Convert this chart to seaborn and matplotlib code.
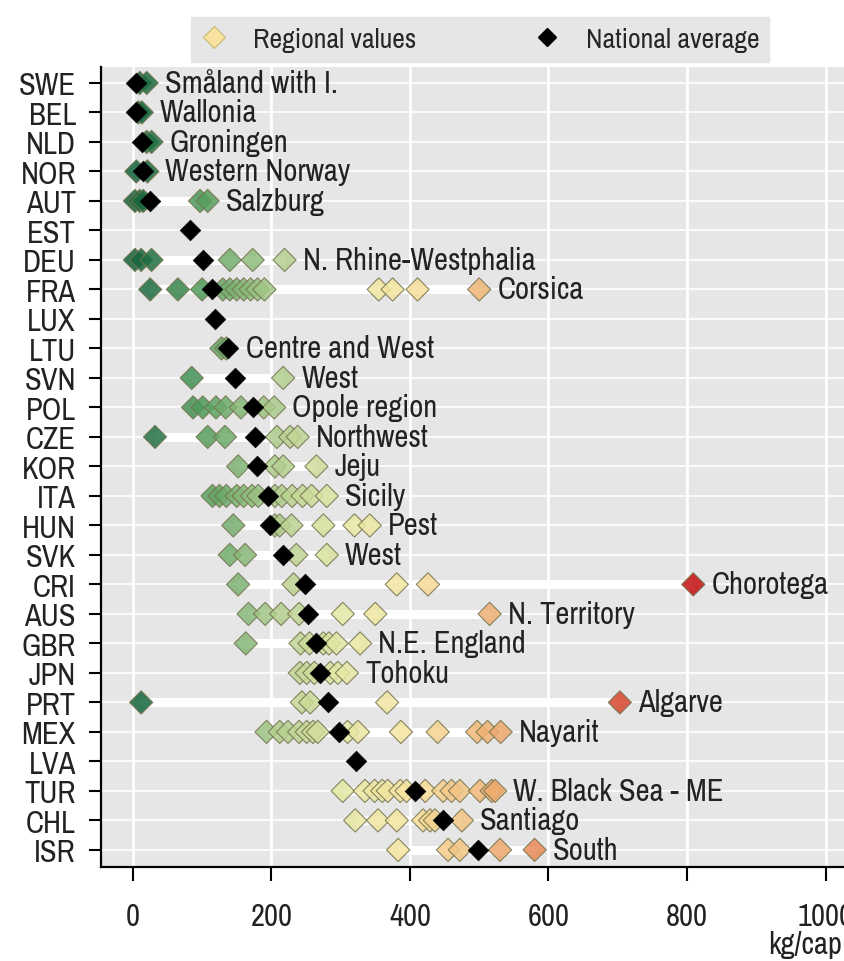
import numpy as np
import pandas as pd
import matplotlib
matplotlib.use("Agg")
import matplotlib.pyplot as plt
from matplotlib.colors import LinearSegmentedColormap
from matplotlib.lines import Line2D
import seaborn as sns

# data (kg/cap)
countries = ["SWE", "BEL", "NLD", "NOR", "AUT", "EST", "DEU", "FRA", "LUX", "LTU",
             "SVN", "POL", "CZE", "KOR", "ITA", "HUN", "SVK", "CRI", "AUS", "GBR",
             "JPN", "PRT", "MEX", "LVA", "TUR", "CHL", "ISR"]
national = [5, 5, 13, 15, 25, 82, 101, 114, 118, 137,
            148, 173, 176, 179, 195, 198, 217, 248, 253, 264,
            270, 282, 298, 322, 407, 448, 498]
regional = [
    [10, 20],
    [8, 13],
    [20, 27],
    [5, 21],
    [3, 10, 15, 97, 108],
    [],
    [3, 12, 27, 140, 173, 219],
    [25, 65, 100, 130, 140, 150, 160, 170, 180, 190, 355, 375, 411, 500],
    [],
    [128, 135],
    [85, 217],
    [87, 101, 120, 134, 156, 189, 204],
    [32, 108, 133, 208, 227, 238],
    [152, 205, 217, 265],
    [115, 125, 135, 150, 160, 172, 181, 205, 215, 230, 245, 258, 280],
    [145, 205, 212, 229, 275, 320, 342],
    [140, 162, 236, 280],
    [152, 232, 381, 426, 809],
    [167, 191, 214, 240, 303, 350, 515],
    [163, 242, 255, 275, 283, 294, 328],
    [241, 251, 262, 285, 296, 309],
    [12, 244, 256, 367, 703],
    [193, 212, 224, 240, 251, 260, 267, 310, 325, 387, 440, 497, 512, 531],
    [],
    [303, 335, 349, 360, 368, 386, 395, 422, 448, 460, 472, 501, 518, 523],
    [321, 354, 381, 419, 429, 436, 475],
    [383, 455, 472, 530, 580],
]
top_region = ["Småland with I.", "Wallonia", "Groningen", "Western Norway", "Salzburg", "",
              "N. Rhine-Westphalia", "Corsica", "", "Centre and West", "West",
              "Opole region", "Northwest", "Jeju", "Sicily", "Pest", "West",
              "Chorotega", "N. Territory", "N.E. England", "Tohoku", "Algarve",
              "Nayarit", "", "W. Black Sea - ME", "Santiago", "South"]
xticks = [0, 200, 400, 600, 800, 1000]

rows = []
for i, vals in enumerate(regional):
    for v in vals:
        rows.append({"row": i, "value": v})
reg_df = pd.DataFrame(rows)
nat_df = pd.DataFrame({"row": range(len(countries)), "value": national})

sns.set_style("darkgrid", {"axes.facecolor": "#e6e6e6", "grid.color": "white"})
plt.rcParams['font.family'] = ['Archivo Narrow', 'PT Sans Narrow', 'DejaVu Sans']
FS = 22

cmap = LinearSegmentedColormap.from_list("waste", [
    (0.0, "#10603a"), (0.123, "#4e9a5a"), (0.247, "#a9c98a"), (0.37, "#e4e8a4"),
    (0.494, "#f8e4a0"), (0.617, "#f0b878"), (0.74, "#e88050"), (0.864, "#d84a30"),
    (1.0, "#c40f0f")])

fig = plt.figure(figsize=(8.45, 9.62), dpi=100)
ax = fig.add_axes([0.1195, 0.0977, 0.8805, 0.8316])

# white range bars behind the markers
for i, vals in enumerate(regional):
    allv = vals + [national[i]]
    if len(vals) > 0:
        ax.hlines(i, min(allv), max(allv), color="white", lw=6.5, zorder=1)

sns.scatterplot(data=reg_df, x="value", y="row", hue="value", palette=cmap,
                hue_norm=(0, 810), marker="D", s=140, alpha=0.85,
                edgecolor=(0.45, 0.45, 0.3, 0.45), linewidth=0.8, legend=False,
                ax=ax, zorder=2)
sns.scatterplot(data=nat_df, x="value", y="row", color="black", marker="D", s=110,
                edgecolor="black", linewidth=0.5, legend=False, ax=ax, zorder=3)

for i, name in enumerate(top_region):
    if name:
        xmax = max(regional[i] + [national[i]])
        ax.annotate(name, (xmax, i), xytext=(13, 0), textcoords="offset points",
                    va="center", ha="left", fontsize=FS, color="#222222", zorder=4)

ax.set_xlim(-46, 1028)
ax.set_ylim(26.58, -0.54)
ax.set_yticks(range(len(countries)))
ax.set_yticklabels(countries)
ax.set_xticks(xticks)
ax.set_xlabel("")
ax.set_ylabel("")
ax.grid(True, axis="x", color="white", lw=2)
ax.grid(True, axis="y", color="white", lw=1.2)
ax.set_axisbelow(True)
for side in ["top", "right"]:
    ax.spines[side].set_visible(False)
for side in ["left", "bottom"]:
    ax.spines[side].set_visible(True)
    ax.spines[side].set_color("black")
    ax.spines[side].set_linewidth(1.6)
ax.tick_params(axis="y", length=9, width=1.5, color="black", pad=9, labelsize=FS,
               labelcolor="#222222", left=True)
ax.tick_params(axis="x", length=10, width=1.5, color="black", pad=15, labelsize=FS,
               labelcolor="#222222", bottom=True)

fig.text(768 / 845, 1 - 945 / 962, "kg/cap", fontsize=FS, color="#222222",
         ha="left", va="center")

handles = [
    Line2D([], [], marker="D", ls="none", markersize=11, markerfacecolor="#f8e4a0",
           markeredgecolor="#c8b870", markeredgewidth=0.8, label="Regional values"),
    Line2D([], [], marker="D", ls="none", markersize=9, color="black",
           label="National average"),
]
fig.legend(handles=handles, loc="center", bbox_to_anchor=(0.568, 0.958), ncol=2,
           frameon=True, facecolor="#e6e6e6", edgecolor="#e6e6e6", framealpha=1,
           fontsize=20, columnspacing=4.2, handlelength=1.0, handletextpad=0.9,
           borderpad=0.35, borderaxespad=0, fancybox=False)

plt.savefig("out.png", dpi=100)
